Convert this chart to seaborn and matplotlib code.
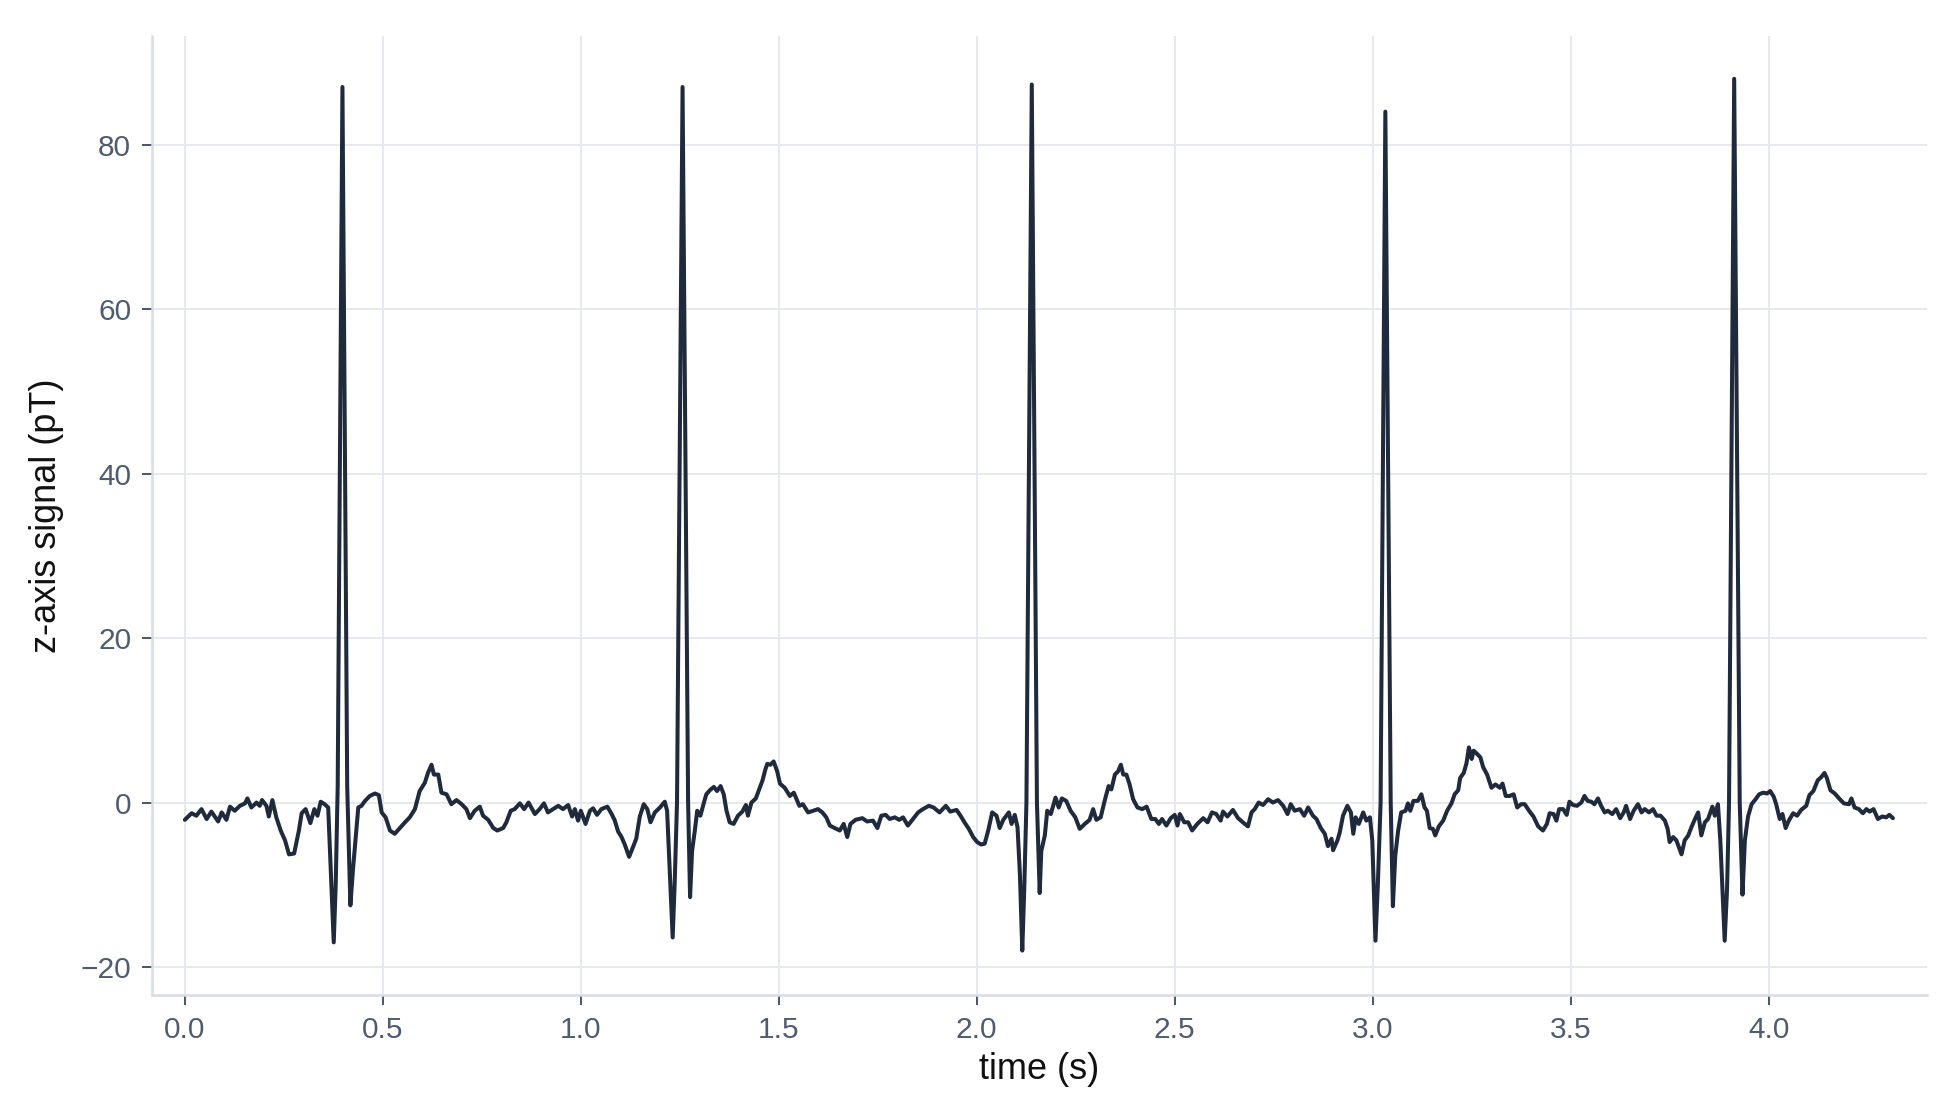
import numpy as np
import pandas as pd
import matplotlib
matplotlib.use("Agg")
import matplotlib.pyplot as plt
import seaborn as sns

# z-axis magnetometer trace (seconds, pT)
time_s = [
    0.000, 0.017, 0.029, 0.042, 0.055, 0.067, 0.084, 0.093, 0.105, 0.114,
    0.126, 0.139, 0.152, 0.158, 0.168, 0.181, 0.189, 0.195, 0.206, 0.212,
    0.221, 0.231, 0.242, 0.253, 0.263, 0.276, 0.288, 0.295, 0.305, 0.317,
    0.327, 0.335, 0.343, 0.353, 0.362, 0.369, 0.376, 0.381, 0.386, 0.398,
    0.410, 0.418, 0.425, 0.433, 0.438, 0.446, 0.455, 0.467, 0.480, 0.490,
    0.497, 0.507, 0.518, 0.530, 0.543, 0.556, 0.568, 0.581, 0.593, 0.606,
    0.614, 0.623, 0.629, 0.640, 0.648, 0.661, 0.673, 0.686, 0.699, 0.711,
    0.720, 0.732, 0.745, 0.753, 0.766, 0.779, 0.789, 0.804, 0.812, 0.823,
    0.833, 0.846, 0.857, 0.868, 0.884, 0.896, 0.907, 0.917, 0.930, 0.943,
    0.955, 0.968, 0.978, 0.985, 0.993, 1.000, 1.012, 1.023,
    1.031, 1.041, 1.052, 1.067, 1.078, 1.086, 1.094, 1.103, 1.111, 1.122,
    1.132, 1.140, 1.149, 1.159, 1.168, 1.176, 1.187, 1.200, 1.212, 1.218,
    1.225, 1.232, 1.237, 1.243, 1.257, 1.271, 1.276, 1.281, 1.288, 1.294,
    1.302, 1.311, 1.317, 1.326, 1.336, 1.344, 1.353, 1.361, 1.368, 1.376,
    1.386, 1.397, 1.408, 1.417, 1.422, 1.431, 1.442, 1.452, 1.459, 1.466,
    1.471, 1.479, 1.487, 1.496, 1.503, 1.515, 1.528, 1.538, 1.552, 1.561,
    1.574, 1.587, 1.599, 1.610, 1.620, 1.629, 1.641, 1.654, 1.664, 1.673,
    1.681, 1.694, 1.711, 1.723, 1.738, 1.749, 1.759, 1.770, 1.780, 1.793,
    1.804, 1.814, 1.826, 1.839, 1.852, 1.864, 1.879, 1.891, 1.906, 1.922,
    1.933, 1.949, 1.959, 1.969, 1.980, 1.991, 2.001, 2.011, 2.020,
    2.029, 2.039, 2.050, 2.058, 2.067, 2.081, 2.088, 2.096, 2.103, 2.109,
    2.115, 2.120, 2.1255, 2.139, 2.152, 2.159, 2.163, 2.172, 2.178, 2.187,
    2.199, 2.207, 2.215, 2.226, 2.237, 2.249, 2.260, 2.273, 2.285, 2.294,
    2.302, 2.313, 2.323, 2.333, 2.340, 2.349, 2.357, 2.364, 2.370, 2.378,
    2.386, 2.395, 2.406, 2.418, 2.429, 2.441, 2.451, 2.460, 2.468, 2.479,
    2.490, 2.500, 2.507, 2.513, 2.524, 2.534, 2.544, 2.557, 2.572, 2.583,
    2.594, 2.605, 2.616, 2.622, 2.633, 2.647, 2.660, 2.672, 2.685, 2.694,
    2.702, 2.712, 2.723, 2.736, 2.748, 2.761, 2.774, 2.785, 2.793, 2.803,
    2.816, 2.827, 2.837, 2.849, 2.858, 2.869, 2.879, 2.887, 2.896, 2.900,
    2.911, 2.917, 2.925, 2.936, 2.945, 2.951, 2.957, 2.965, 2.976, 2.984,
    2.993, 2.999, 3.007, 3.013, 3.020, 3.032, 3.0455, 3.051, 3.057, 3.064,
    3.072, 3.083, 3.089, 3.095, 3.103, 3.114, 3.123, 3.131, 3.137, 3.144,
    3.152, 3.158, 3.167, 3.178, 3.188, 3.199, 3.207, 3.216, 3.221, 3.230,
    3.237, 3.243, 3.250, 3.255, 3.264, 3.272, 3.279, 3.289, 3.300, 3.310,
    3.321, 3.328, 3.336, 3.346, 3.356, 3.365, 3.375, 3.384, 3.395, 3.406,
    3.418, 3.430, 3.440, 3.447, 3.457, 3.464, 3.471, 3.481, 3.490, 3.497,
    3.506, 3.516, 3.527, 3.535, 3.543, 3.552, 3.560, 3.569, 3.577, 3.586,
    3.594, 3.605, 3.615, 3.625, 3.634, 3.640, 3.650, 3.659, 3.670, 3.679,
    3.687, 3.698, 3.708, 3.717, 3.727, 3.738, 3.745, 3.750, 3.759, 3.767,
    3.780, 3.788, 3.797, 3.805, 3.814, 3.822, 3.830, 3.839, 3.847, 3.858,
    3.864, 3.872, 3.878, 3.889, 3.895, 3.900, 3.913, 3.927, 3.934, 3.940,
    3.948, 3.957, 3.967, 3.976, 3.986, 3.996, 4.004, 4.013, 4.019, 4.028,
    4.035, 4.043, 4.051, 4.062, 4.072, 4.082, 4.095, 4.103, 4.113, 4.124,
    4.133, 4.141, 4.147, 4.156, 4.167, 4.178, 4.190, 4.203, 4.209, 4.217,
    4.228, 4.238, 4.247, 4.255, 4.265, 4.276, 4.287, 4.297, 4.305, 4.314,
]

signal_pt = [
    -2.1, -1.3, -1.6, -0.8, -2.0, -1.1, -2.3, -1.2, -2.1, -0.5,
    -1.0, -0.4, -0.1, 0.5, -0.6, 0.0, -0.4, 0.3, -0.4, -1.7,
    0.3, -1.8, -3.4, -4.6, -6.3, -6.2, -3.4, -1.3, -0.8, -2.5,
    -0.8, -1.6, 0.1, -0.2, -0.6, -8.7, -17.0, -10.0, 2.0, 87.0,
    2.0, -12.5, -7.9, -3.4, -0.6, -0.4, 0.2, 0.8, 1.1, 0.9,
    -1.2, -1.8, -3.4, -3.8, -3.1, -2.4, -1.8, -0.8, 1.4, 2.4,
    3.6, 4.6, 3.4, 3.4, 1.2, 1.0, -0.2, 0.3, -0.2, -0.8,
    -1.9, -1.0, -0.5, -1.6, -2.1, -3.1, -3.4, -3.1, -2.4, -1.0,
    -0.8, -0.1, -0.8, 0.0, -1.4, -0.8, -0.1, -1.2, -0.8, -0.4,
    -0.8, -0.3, -1.7, -0.8, -2.2, -1.0, -2.6, -1.0,
    -0.7, -1.5, -0.8, -0.5, -1.4, -2.2, -3.5, -4.2, -5.1, -6.6,
    -5.4, -4.4, -1.7, -0.2, -0.8, -2.4, -1.2, -0.6, 0.1, -1.0,
    -8.7, -16.4, -10.0, 0.0, 87.0, 0.0, -11.5, -5.9, -3.4, -1.0,
    -1.6, 0.0, 1.0, 1.5, 1.9, 1.4, 2.0, 1.0, -1.0, -2.4,
    -2.6, -1.6, -1.1, -0.3, -1.6, 0.0, 0.5, 1.8, 2.7, 4.0,
    4.7, 4.6, 5.0, 3.8, 2.3, 1.8, 0.8, 1.2, -0.4, -0.2,
    -1.2, -1.0, -0.8, -1.2, -1.8, -2.8, -3.1, -3.4, -2.6, -4.2,
    -2.6, -2.1, -1.9, -2.3, -2.2, -3.1, -1.6, -1.5, -2.0, -1.8,
    -2.1, -1.8, -2.8, -2.0, -1.2, -0.8, -0.4, -0.6, -1.2, -0.4,
    -1.1, -0.9, -1.6, -2.4, -3.2, -4.2, -4.8, -5.1, -5.0,
    -3.4, -1.2, -1.6, -3.1, -2.1, -1.2, -2.6, -1.5, -3.0, -8.7,
    -18.0, -10.5, 0.0, 87.3, 0.0, -11.0, -5.9, -4.0, -1.0, -1.4,
    0.6, -0.6, 0.5, 0.2, -1.0, -1.8, -3.2, -2.6, -2.1, -0.8,
    -2.1, -1.8, 0.2, 2.0, 1.6, 3.4, 3.8, 4.6, 3.4, 3.4,
    2.2, 0.4, -0.6, -0.8, -0.5, -2.0, -2.0, -2.6, -2.0, -2.8,
    -1.9, -1.5, -2.8, -1.4, -2.4, -2.4, -3.4, -2.6, -1.9, -2.4,
    -1.2, -1.4, -2.2, -1.1, -1.7, -0.9, -1.9, -2.4, -2.9, -1.2,
    -0.8, 0.0, -0.3, 0.4, 0.0, 0.3, -0.4, -1.4, -0.2, -1.0,
    -0.8, -1.6, -0.6, -1.6, -2.0, -3.1, -3.8, -5.3, -4.4, -5.8,
    -4.6, -3.6, -1.6, -0.4, -1.2, -3.8, -1.8, -2.6, -1.2, -2.2,
    -1.8, -4.6, -16.8, -10.0, 0.0, 84.0, 0.0, -12.6, -6.5, -3.5,
    -1.2, -1.0, -0.1, -1.0, 0.2, 0.2, 1.0, -0.6, -1.0, -3.1,
    -3.2, -4.0, -2.9, -2.2, -1.0, -0.1, 1.0, 1.5, 3.0, 3.6,
    4.8, 6.7, 5.3, 6.3, 5.9, 5.5, 4.3, 3.4, 1.8, 2.2,
    1.8, 2.3, 0.8, 0.8, 1.0, -0.6, -0.2, -0.2, -1.0, -1.7,
    -2.9, -3.4, -2.6, -1.3, -1.4, -2.2, -0.8, -0.8, -1.5, 0.1,
    -0.3, -0.4, 0.0, 0.8, 0.2, 0.1, -0.2, 0.5, -0.4, -1.2,
    -1.0, -1.4, -0.8, -1.9, -1.2, -0.4, -2.0, -1.0, -0.2, -1.2,
    -0.8, -1.2, -0.8, -1.6, -1.6, -2.2, -3.2, -4.8, -4.2, -4.6,
    -6.3, -4.6, -4.0, -3.0, -2.0, -1.2, -4.0, -2.4, -2.0, -0.5,
    -1.6, -0.2, -4.6, -16.8, -10.5, 0.0, 88.0, 0.0, -11.2, -4.6,
    -1.7, -0.2, 0.4, 1.0, 1.2, 1.1, 1.4, 0.7, -0.2, -2.0,
    -1.4, -3.1, -2.2, -1.3, -1.6, -0.9, -0.4, 0.9, 1.4, 2.7,
    3.1, 3.6, 3.0, 1.5, 1.1, 0.5, -0.1, -0.2, 0.5, -0.6,
    -0.8, -1.3, -0.8, -1.1, -0.8, -2.0, -1.7, -1.8, -1.5, -1.9,
]

x_ticks = [0.0, 0.5, 1.0, 1.5, 2.0, 2.5, 3.0, 3.5, 4.0]
y_ticks = [-20, 0, 20, 40, 60, 80]

df = pd.DataFrame({"time": time_s, "signal": signal_pt})

sns.set_theme(style="whitegrid")
plt.rcParams["font.family"] = ["Liberation Sans", "DejaVu Sans"]

fig, ax = plt.subplots(figsize=(19.6, 11.2), dpi=100)
fig.subplots_adjust(left=152 / 1960, right=1927 / 1960,
                    bottom=1 - 995 / 1120, top=1 - 36 / 1120)

sns.lineplot(data=df, x="time", y="signal", estimator=None, sort=False,
             color="#1f2a3d", linewidth=2.9, ax=ax)

ax.set_xlim(-0.083, 4.40)
ax.set_ylim(-23.4, 93.2)
ax.set_xticks(x_ticks)
ax.set_yticks(y_ticks)
ax.set_xticklabels([f"{v:.1f}" for v in x_ticks])

ax.set_facecolor("white")
ax.grid(True, color="#e6e9f0", linewidth=1.4)
for side in ["top", "right"]:
    ax.spines[side].set_visible(False)
for side in ["left", "bottom"]:
    ax.spines[side].set_color("#d8dce6")
    ax.spines[side].set_linewidth(1.8)

ax.tick_params(axis="both", which="major", direction="out", length=7,
               width=1.4, color="#4a5568", labelcolor="#4f5b70",
               labelsize=21.5, pad=8, bottom=True, left=True)

ax.set_xlabel("time (s)", fontsize=26, color="#111111", labelpad=6)
ax.set_ylabel("z-axis signal (pT)", fontsize=26, color="#111111", labelpad=12)

fig.savefig("out.png", dpi=100)
